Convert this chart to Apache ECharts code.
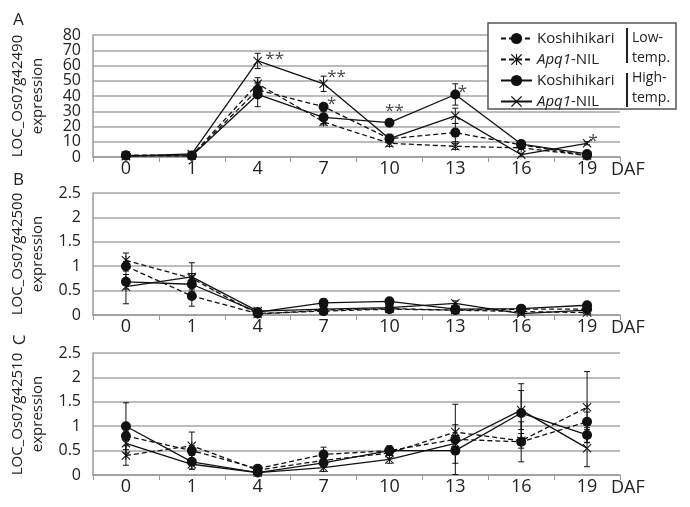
<!DOCTYPE html>
<html>
<head>
<meta charset="utf-8">
<script src="https://cdn.jsdelivr.net/npm/echarts@6/dist/echarts.min.js"></script>
<style>
  html, body { margin: 0; padding: 0; background: #fff; }
  #main { width: 690px; height: 507px; }
</style>
</head>
<body>
<div id="main"></div>
<script>
// days after flowering
const days = ['0', '1', '4', '7', '10', '13', '16', '19']

// A: LOC_Os07g42490
const kosLowA = [1, 1, 44, 33, 12, 16, 8, 1]
const apqLowA = [1, 1, 48, 23, 9, 7, 6, 1]
const kosHighA = [1, 0.8, 41, 26, 22.5, 41, 8.5, 2]
const apqHighA = [0.5, 2, 63, 48, 12, 27, 1.5, 9]
const kosLowErrA = [0.5, 0.5, 4, 2, 2, 6, 2, 1]
const apqLowErrA = [0.5, 0.5, 4, 2, 2, 2, 1, 0.5]
const kosHighErrA = [0.5, 0.5, 8, 4, 2, 7, 2, 1]
const apqHighErrA = [0.5, 0.5, 5, 5, 3, 5, 1, 1]

// B: LOC_Os07g42500
const kosLowB = [1.0, 0.39, 0.03, 0.08, 0.12, 0.1, 0.12, 0.12]
const apqLowB = [1.12, 0.75, 0.02, 0.1, 0.13, 0.1, 0.07, 0.05]
const kosHighB = [0.68, 0.63, 0.06, 0.25, 0.28, 0.12, 0.13, 0.2]
const apqHighB = [0.58, 0.78, 0.08, 0.12, 0.15, 0.24, 0.03, 0.1]
const kosLowErrB = [0.1, 0.21, 0.02, 0.03, 0.03, 0.03, 0.03, 0.03]
const apqLowErrB = [0.15, 0.1, 0.02, 0.03, 0.03, 0.03, 0.03, 0.03]
const kosHighErrB = [0.15, 0.1, 0.03, 0.08, 0.05, 0.03, 0.03, 0.03]
const apqHighErrB = [0.35, 0.29, 0.03, 0.04, 0.04, 0.05, 0.03, 0.03]

// C: LOC_Os07g42510
const kosLowC = [0.8, 0.5, 0.13, 0.42, 0.5, 0.73, 0.68, 1.09]
const apqLowC = [0.4, 0.6, 0.1, 0.3, 0.45, 0.88, 0.7, 1.39]
const kosHighC = [1.0, 0.27, 0.05, 0.25, 0.5, 0.5, 1.27, 0.82]
const apqHighC = [0.65, 0.22, 0.05, 0.15, 0.32, 0.65, 1.33, 0.55]
const kosLowErrC = [0.1, 0.1, 0.03, 0.15, 0.08, 0.72, 0.41, 0.2]
const apqLowErrC = [0.2, 0.28, 0.03, 0.1, 0.1, 0.15, 0.15, 0.73]
const kosHighErrC = [0.48, 0.15, 0.03, 0.08, 0.1, 0.26, 0.6, 0.15]
const apqHighErrC = [0.2, 0.1, 0.03, 0.08, 0.08, 0.1, 0.4, 0.38]

// significance marks in panel A
const starDays = ['4', '7', '7', '10', '13', '19']
const starVals = [67, 55, 37, 33, 45, 13]
const starText = ['**', '**', '*', '**', '*', '*']

const geneNames = ['LOC_Os07g42490', 'LOC_Os07g42500', 'LOC_Os07g42510']
const yMax = [80, 2.5, 2.5]
const yStep = [10, 0.5, 0.5]

const panels = [
  { values: [kosLowA, apqLowA, kosHighA, apqHighA], errors: [kosLowErrA, apqLowErrA, kosHighErrA, apqHighErrA] },
  { values: [kosLowB, apqLowB, kosHighB, apqHighB], errors: [kosLowErrB, apqLowErrB, kosHighErrB, apqHighErrB] },
  { values: [kosLowC, apqLowC, kosHighC, apqHighC], errors: [kosLowErrC, apqLowErrC, kosHighErrC, apqHighErrC] }
]

const X_PATH = 'path://M0,0.8L0.8,0L5,4.2L9.2,0L10,0.8L5.8,5L10,9.2L9.2,10L5,5.8L0.8,10L0,9.2L4.2,5Z'
const STAR_PATH = 'path://M0,0.8L0.8,0L5,4.2L9.2,0L10,0.8L5.8,5L10,9.2L9.2,10L5,5.8L0.8,10L0,9.2L4.2,5Z M4.5,0L5.5,0L5.5,10L4.5,10Z'

const seriesKeys = ['kosLow', 'apqLow', 'kosHigh', 'apqHigh']
const keyStyle = {
  kosLow: { dash: [5, 3], symbol: 'circle', size: 10 },
  apqLow: { dash: [5, 3], symbol: STAR_PATH, size: 9 },
  kosHigh: { dash: 'solid', symbol: 'circle', size: 10 },
  apqHigh: { dash: 'solid', symbol: X_PATH, size: 9 }
}
const legendText = {
  kosLow: 'Koshihikari',
  apqLow: '{i|Apq1}-NIL',
  kosHigh: 'Koshihikari',
  apqHigh: '{i|Apq1}-NIL'
}

const ink = '#111'
const gridTops = [35, 193, 353]
const font = 'Open Sans'

const errorBar = (params, api) => {
  const i = api.value(0)
  const v = api.value(1)
  const e = api.value(2)
  const top = api.coord([i, v + e])
  const bot = api.coord([i, Math.max(0, v - e)])
  const w = 3
  const st = { stroke: ink, lineWidth: 1 }
  return {
    type: 'group',
    children: [
      { type: 'line', shape: { x1: top[0], y1: top[1], x2: bot[0], y2: bot[1] }, style: st },
      { type: 'line', shape: { x1: top[0] - w, y1: top[1], x2: top[0] + w, y2: top[1] }, style: st },
      { type: 'line', shape: { x1: bot[0] - w, y1: bot[1], x2: bot[0] + w, y2: bot[1] }, style: st }
    ]
  }
}

const series = []
panels.forEach((panel, p) => {
  seriesKeys.forEach((key, k) => {
    const s = keyStyle[key]
    series.push({
      type: 'custom',
      xAxisIndex: p,
      yAxisIndex: p,
      silent: true,
      z: 2,
      renderItem: errorBar,
      encode: { x: 0, y: 1 },
      data: panel.values[k].map((v, i) => [i, v, panel.errors[k][i]])
    })
    series.push({
      name: key,
      type: 'line',
      xAxisIndex: p,
      yAxisIndex: p,
      z: 3,
      data: panel.values[k],
      symbol: s.symbol,
      symbolSize: s.size,
      showAllSymbol: true,
      lineStyle: { color: ink, width: 1.3, type: s.dash },
      itemStyle: { color: ink }
    })
  })
})

const starDx = [17, 13, 8, 5, 7, 6]
series.push({
  type: 'scatter',
  xAxisIndex: 0,
  yAxisIndex: 0,
  symbolSize: 0,
  silent: true,
  z: 4,
  data: starDays.map((d, i) => ({
    value: [d, starVals[i]],
    label: { offset: [starDx[i], 4] }
  })),
  label: {
    show: true,
    position: 'inside',
    formatter: (params) => starText[params.dataIndex],
    fontSize: 17,
    color: ink,
    fontFamily: font
  }
})

// tick labels are split over two stacked axes (even / odd steps) so the
// tightly packed panel A labels are not thinned out by the overlap check
const tickLabel = (p, odd) => (v) => {
  const n = Math.round(v / yStep[p])
  return (n % 2 === 1) === odd ? String(v) : ''
}
const labelStyle = { fontSize: 16, color: '#222', margin: 12, showMinLabel: true, showMaxLabel: true }

const mainY = gridTops.map((t, p) => ({
  type: 'value',
  gridIndex: p,
  position: 'left',
  min: 0,
  max: yMax[p],
  interval: yStep[p],
  axisLine: { show: true, lineStyle: { color: '#999', width: 1.5 } },
  axisTick: { show: false },
  axisLabel: { ...labelStyle, formatter: tickLabel(p, false) },
  splitLine: { lineStyle: { color: '#a6a6a6', width: 1.5 } },
  name: geneNames[p] + '\nexpression',
  nameLocation: 'middle',
  nameRotate: 90,
  nameGap: 45,
  nameTextStyle: { fontSize: 15, lineHeight: 20, color: '#222' }
}))
const auxY = gridTops.map((t, p) => ({
  type: 'value',
  gridIndex: p,
  position: 'left',
  offset: 0,
  min: 0,
  max: yMax[p],
  interval: yStep[p],
  axisLine: { show: false },
  axisTick: { show: false },
  splitLine: { show: false },
  axisLabel: { ...labelStyle, formatter: tickLabel(p, true) }
}))

const option = {
  animation: false,
  textStyle: { fontFamily: font },
  grid: gridTops.map((top) => ({ left: 93, right: 70, top, height: 122 })),
  xAxis: gridTops.map((t, p) => ({
    type: 'category',
    gridIndex: p,
    data: days,
    axisLine: { lineStyle: { color: '#999', width: 1.5 } },
    axisTick: { show: true, length: 5, lineStyle: { color: '#999' } },
    axisLabel: { fontSize: 18, color: '#222', margin: 3 },
    splitLine: { show: false }
  })),
  yAxis: mainY.concat(auxY),
  legend: {
    data: seriesKeys,
    orient: 'vertical',
    left: 500,
    top: 31,
    padding: 0,
    itemGap: 6,
    itemWidth: 31,
    itemHeight: 14,
    z: 20,
    formatter: (name) => legendText[name],
    textStyle: {
      fontSize: 15,
      color: '#222',
      rich: { i: { fontSize: 15, fontStyle: 'italic', color: '#222' } }
    }
  },
  graphic: [
    { type: 'rect', z: 10, shape: { x: 488, y: 23, width: 188, height: 86 }, style: { fill: '#fff', stroke: '#555', lineWidth: 1.5 } },
    { type: 'rect', z: 20, shape: { x: 626, y: 28, width: 2, height: 35 }, style: { fill: '#222' } },
    { type: 'rect', z: 20, shape: { x: 626, y: 73, width: 2, height: 34 }, style: { fill: '#222' } },
    { type: 'text', z: 20, x: 632, y: 38, style: { text: 'Low-', font: '14px "Open Sans"', fill: '#222', verticalAlign: 'middle' } },
    { type: 'text', z: 20, x: 632, y: 58, style: { text: 'temp.', font: '14px "Open Sans"', fill: '#222', verticalAlign: 'middle' } },
    { type: 'text', z: 20, x: 632, y: 78, style: { text: 'High-', font: '14px "Open Sans"', fill: '#222', verticalAlign: 'middle' } },
    { type: 'text', z: 20, x: 632, y: 98, style: { text: 'temp.', font: '14px "Open Sans"', fill: '#222', verticalAlign: 'middle' } },
    { type: 'text', x: 611, y: 170, style: { text: 'DAF', font: '18px "Open Sans"', fill: '#222', verticalAlign: 'middle' } },
    { type: 'text', x: 611, y: 328, style: { text: 'DAF', font: '18px "Open Sans"', fill: '#222', verticalAlign: 'middle' } },
    { type: 'text', x: 611, y: 488, style: { text: 'DAF', font: '18px "Open Sans"', fill: '#222', verticalAlign: 'middle' } },
    { type: 'text', x: 13, y: 20, style: { text: 'A', font: '17px "Open Sans"', fill: '#222', verticalAlign: 'middle' } },
    { type: 'text', x: 13, y: 180, style: { text: 'B', font: '17px "Open Sans"', fill: '#222', verticalAlign: 'middle' } },
    { type: 'text', x: 20, y: 340, rotation: Math.PI / 2, style: { text: 'C', font: '17px "Open Sans"', fill: '#222', align: 'center', verticalAlign: 'middle' } }
  ],
  series
}

const chart = echarts.init(document.getElementById('main'))
chart.setOption(option)
</script>
</body>
</html>
